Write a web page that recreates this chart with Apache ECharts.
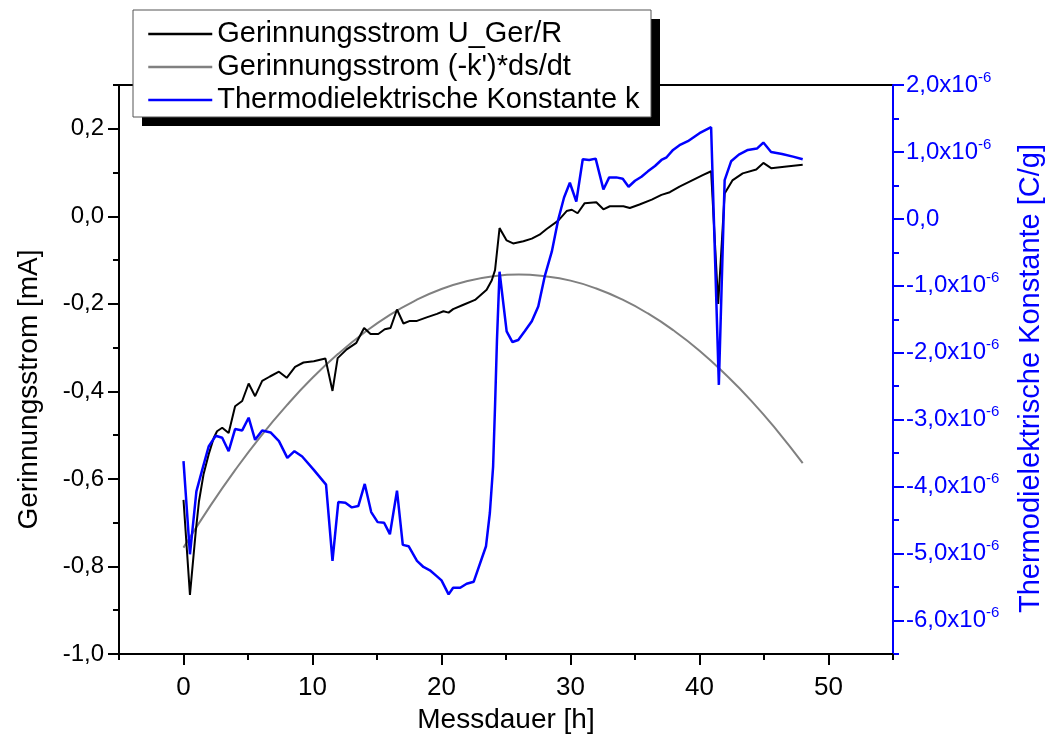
<!DOCTYPE html>
<html>
<head>
<meta charset="utf-8">
<script src="https://cdn.jsdelivr.net/npm/echarts@6/dist/echarts.min.js"></script>
<style>
  html, body { margin: 0; padding: 0; background: #ffffff; }
  #chart { width: 1045px; height: 744px; }
</style>
</head>
<body>
<div id="chart"></div>
<script>
// Measured coagulation current U_Ger/R [mA] over time [h]
const hoursU = [0.0, 0.5, 0.95, 1.2, 1.55, 1.95, 2.35, 2.6, 3.0, 3.5, 4.0, 4.55, 5.05, 5.55, 6.1, 6.7, 7.4, 8.0, 8.65, 9.3, 10.1, 11.0, 11.55, 11.95, 12.65, 13.4, 14.0, 14.5, 15.1, 15.6, 16.05, 16.55, 17.05, 17.55, 18.1, 18.85, 19.65, 20.15, 20.55, 20.9, 21.7, 22.6, 23.5, 23.9, 24.15, 24.5, 25.05, 25.55, 26.35, 27.0, 27.6, 28.15, 29.05, 29.7, 30.1, 30.55, 31.1, 32.0, 32.55, 33.05, 34.1, 34.6, 35.35, 36.3, 37.05, 37.7, 38.45, 39.35, 40.25, 40.9, 41.45, 41.95, 42.55, 43.35, 44.4, 44.95, 45.55, 46.75, 48.0];
const currentU = [-0.648, -0.865, -0.720, -0.651, -0.590, -0.544, -0.506, -0.491, -0.483, -0.495, -0.434, -0.422, -0.382, -0.411, -0.376, -0.366, -0.355, -0.369, -0.344, -0.334, -0.331, -0.325, -0.399, -0.324, -0.304, -0.289, -0.255, -0.269, -0.269, -0.258, -0.255, -0.213, -0.245, -0.239, -0.239, -0.231, -0.223, -0.217, -0.220, -0.212, -0.202, -0.191, -0.168, -0.146, -0.123, -0.027, -0.055, -0.062, -0.057, -0.051, -0.042, -0.029, -0.010, 0.012, 0.015, 0.007, 0.030, 0.032, 0.016, 0.023, 0.023, 0.019, 0.027, 0.038, 0.049, 0.055, 0.068, 0.081, 0.094, 0.103, -0.200, 0.052, 0.082, 0.098, 0.107, 0.122, 0.110, 0.114, 0.118];

// Coagulation current from (-k')*ds/dt [mA]
const hoursFit = [0, 2, 4, 6, 8, 10, 12, 14, 16, 18, 20, 22, 24, 26, 28, 30, 32, 34, 36, 38, 40, 42, 44, 46, 48];
const currentFit = [-0.757, -0.665, -0.580, -0.502, -0.432, -0.369, -0.314, -0.266, -0.225, -0.192, -0.166, -0.148, -0.137, -0.133, -0.137, -0.147, -0.165, -0.190, -0.222, -0.261, -0.307, -0.361, -0.421, -0.489, -0.564];

// Thermodielectric constant k, in units of 1e-6 C/g
const hoursK = [0.0, 0.5, 1.0, 1.45, 1.95, 2.5, 3.0, 3.5, 4.0, 4.55, 5.05, 5.55, 6.1, 6.75, 7.4, 8.05, 8.6, 9.2, 10.1, 11.05, 11.55, 12.0, 12.55, 13.05, 13.55, 14.05, 14.55, 15.05, 15.55, 16.0, 16.55, 17.0, 17.45, 18.1, 18.6, 19.1, 19.65, 20.0, 20.55, 20.9, 21.45, 21.95, 22.5, 23.45, 23.75, 24.0, 24.15, 24.3, 24.5, 25.05, 25.5, 25.95, 26.45, 27.0, 27.5, 28.0, 28.55, 29.05, 29.5, 29.95, 30.45, 30.95, 31.45, 31.95, 32.55, 33.0, 33.55, 34.05, 34.5, 35.0, 35.5, 36.0, 36.55, 37.05, 37.45, 37.95, 38.45, 39.1, 40.0, 40.9, 41.5, 41.95, 42.45, 43.05, 43.75, 44.45, 44.95, 45.55, 46.4, 47.25, 48.0];
const constK = [-3.62, -5.01, -4.07, -3.75, -3.40, -3.24, -3.27, -3.47, -3.14, -3.16, -2.97, -3.30, -3.16, -3.19, -3.32, -3.57, -3.47, -3.55, -3.75, -3.97, -5.11, -4.23, -4.24, -4.31, -4.29, -3.96, -4.38, -4.53, -4.54, -4.71, -4.06, -4.87, -4.89, -5.11, -5.20, -5.25, -5.34, -5.40, -5.61, -5.51, -5.51, -5.45, -5.42, -4.89, -4.39, -3.70, -2.80, -1.81, -0.79, -1.68, -1.84, -1.81, -1.68, -1.53, -1.31, -0.86, -0.49, -0.01, 0.32, 0.54, 0.26, 0.89, 0.88, 0.90, 0.44, 0.62, 0.62, 0.60, 0.48, 0.57, 0.63, 0.71, 0.79, 0.88, 0.92, 1.03, 1.10, 1.16, 1.28, 1.37, -2.48, 0.58, 0.86, 0.96, 1.03, 1.05, 1.14, 1.00, 0.97, 0.93, 0.89];

// Tick positions
const xMajorTicks = [0, 10, 20, 30, 40, 50];
const xMinorTicks = [-5, 5, 15, 25, 35, 45, 55];
const leftMajorTicks = [-1.0, -0.8, -0.6, -0.4, -0.2, 0.0, 0.2];
const leftMinorTicks = [-0.9, -0.7, -0.5, -0.3, -0.1, 0.1, 0.3];
const rightMajorTicks = [-6, -5, -4, -3, -2, -1, 0, 1, 2];
const rightMinorTicks = [-6.5, -5.5, -4.5, -3.5, -2.5, -1.5, -0.5, 0.5, 1.5];

const seriesNames = ['Gerinnungsstrom U_Ger/R', "Gerinnungsstrom (-k')*ds/dt", 'Thermodielektrische Konstante k'];

const FONT = "'Liberation Sans', Arial, sans-serif";
const NARROW = "'Liberation Sans Narrow', 'Arial Narrow', 'Liberation Sans', sans-serif";
const BLUE = '#0000ff';

const pairs = (xs, ys) => xs.map((x, i) => [x, ys[i]]);
const fmtComma = v => (Math.round(v * 10) / 10).toFixed(1).replace('.', ',');

const chart = echarts.init(document.getElementById('chart'), null, { renderer: 'canvas' });

const option = {
  backgroundColor: '#ffffff',
  animation: false,
  grid: {
    left: 119, right: 152, top: 85, bottom: 90,
    containLabel: false, outerBoundsMode: 'none',
    show: true, borderColor: '#000', borderWidth: 2, backgroundColor: 'transparent'
  },
  legend: {
    orient: 'vertical',
    left: 142, top: 14,
    itemWidth: 64, itemHeight: 14, itemGap: 3,
    z: 200,
    itemStyle: { opacity: 0 },
    lineStyle: { width: 2.5 },
    textStyle: { fontFamily: FONT, fontSize: 29, color: '#000', lineHeight: 30 },
    data: seriesNames
  },
  graphic: [
    { type: 'rect', z: 100, shape: { x: 142, y: 19, width: 518, height: 107 }, style: { fill: '#000' } },
    { type: 'rect', z: 101, shape: { x: 133, y: 10, width: 518, height: 107 }, style: { fill: '#fff', stroke: '#555', lineWidth: 1 } }
  ],
  xAxis: [
    {
      type: 'value', position: 'bottom', min: -5, max: 55, interval: 5,
      name: 'Messdauer [h]', nameLocation: 'middle', nameGap: 50,
      nameTextStyle: { fontFamily: NARROW, fontSize: 28, color: '#000' },
      axisLine: { onZero: false, lineStyle: { color: '#000', width: 2 } },
      axisTick: { customValues: xMajorTicks, length: 11, lineStyle: { color: '#000', width: 2 } },
      axisLabel: { customValues: xMajorTicks, margin: 21, fontFamily: NARROW, fontSize: 26, color: '#000' },
      splitLine: { show: false }
    },
    {
      type: 'value', position: 'bottom', min: -5, max: 55, interval: 5,
      axisLine: { show: false, onZero: false },
      axisTick: { customValues: xMinorTicks, length: 6, lineStyle: { color: '#000', width: 2 } },
      axisLabel: { show: false },
      splitLine: { show: false }
    }
  ],
  yAxis: [
    {
      type: 'value', position: 'left', min: -1.0, max: 0.3, interval: 0.1,
      name: 'Gerinnungsstrom [mA]', nameLocation: 'middle', nameGap: 76, nameRotate: 90,
      nameTextStyle: { fontFamily: FONT, fontSize: 28, color: '#000', padding: [0, 40, 0, 0] },
      axisLine: { onZero: false, lineStyle: { color: '#000', width: 2 } },
      axisTick: { customValues: leftMajorTicks, length: 11, lineStyle: { color: '#000', width: 2 } },
      axisLabel: { customValues: leftMajorTicks, margin: 15, fontFamily: FONT, fontSize: 24, color: '#000', formatter: fmtComma },
      splitLine: { show: false }
    },
    {
      type: 'value', position: 'right', min: -6.5, max: 2, interval: 0.5,
      name: 'Thermodielektrische Konstante [C/g]', nameLocation: 'middle', nameGap: 123, nameRotate: 90,
      nameTextStyle: { fontFamily: FONT, fontSize: 29, color: BLUE, padding: [0, 18, 0, 0] },
      axisLine: { onZero: false, lineStyle: { color: BLUE, width: 2 } },
      axisTick: { customValues: rightMajorTicks, length: 11, lineStyle: { color: BLUE, width: 2 } },
      axisLabel: {
        customValues: rightMajorTicks, margin: 13, color: BLUE,
        formatter: v => (Math.abs(v) < 1e-9 ? '{m|0,0}' : '{m|' + fmtComma(v) + 'x10}{e|-6}'),
        rich: {
          m: { fontFamily: FONT, fontSize: 24, color: BLUE, lineHeight: 30 },
          e: { fontFamily: FONT, fontSize: 15, color: BLUE, verticalAlign: 'top', lineHeight: 18 }
        }
      },
      splitLine: { show: false }
    },
    {
      type: 'value', position: 'left', min: -1.0, max: 0.3, interval: 0.1,
      axisLine: { show: false, onZero: false },
      axisTick: { customValues: leftMinorTicks, length: 6, lineStyle: { color: '#000', width: 2 } },
      axisLabel: { show: false },
      splitLine: { show: false }
    },
    {
      type: 'value', position: 'right', min: -6.5, max: 2, interval: 0.5,
      axisLine: { show: false, onZero: false },
      axisTick: { customValues: rightMinorTicks, length: 6, lineStyle: { color: BLUE, width: 2 } },
      axisLabel: { show: false },
      splitLine: { show: false }
    }
  ],
  series: [
    {
      name: seriesNames[0], type: 'line', xAxisIndex: 0, yAxisIndex: 0,
      data: pairs(hoursU, currentU), symbol: 'none', z: 4,
      lineStyle: { color: '#000', width: 2 }, itemStyle: { color: '#000' }
    },
    {
      name: seriesNames[1], type: 'line', xAxisIndex: 0, yAxisIndex: 0,
      data: pairs(hoursFit, currentFit), symbol: 'none', smooth: true, z: 3,
      lineStyle: { color: '#808080', width: 2 }, itemStyle: { color: '#808080' }
    },
    {
      name: seriesNames[2], type: 'line', xAxisIndex: 0, yAxisIndex: 1,
      data: pairs(hoursK, constK), symbol: 'none', z: 5,
      lineStyle: { color: BLUE, width: 2.5 }, itemStyle: { color: BLUE }
    }
  ]
};

chart.setOption(option);
</script>
</body>
</html>
